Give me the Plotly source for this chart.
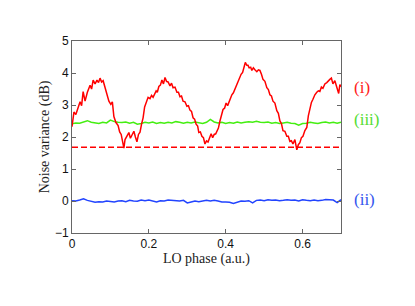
import plotly.graph_objects as go

# ---- data ----
red_phase = [0.000, 0.005, 0.010, 0.015, 0.021, 0.025, 0.029, 0.034, 0.040, 0.047, 0.051, 0.055, 0.060, 0.065, 0.069,
             0.073, 0.077, 0.081, 0.085, 0.088, 0.092, 0.096, 0.101, 0.105, 0.109, 0.114, 0.120, 0.124, 0.128, 0.131,
             0.135, 0.138, 0.141, 0.145, 0.148, 0.152, 0.156, 0.161, 0.165, 0.169, 0.173, 0.177, 0.181, 0.185, 0.189,
             0.193, 0.198, 0.203, 0.207, 0.211, 0.215, 0.219, 0.222, 0.226, 0.230, 0.234, 0.238, 0.242, 0.246, 0.250,
             0.255, 0.259, 0.263, 0.268, 0.273, 0.277, 0.281, 0.285, 0.289, 0.294, 0.299, 0.303, 0.307, 0.311, 0.315,
             0.319, 0.323, 0.327, 0.330, 0.334, 0.338, 0.342, 0.346, 0.350, 0.354, 0.358, 0.362, 0.366, 0.370, 0.374,
             0.377, 0.381, 0.385, 0.389, 0.393, 0.397, 0.401, 0.405, 0.409, 0.413, 0.416, 0.420, 0.424, 0.428, 0.432,
             0.436, 0.440, 0.444, 0.448, 0.451, 0.455, 0.458, 0.461, 0.465, 0.468, 0.472, 0.476, 0.481, 0.485, 0.489,
             0.493, 0.497, 0.502, 0.507, 0.511, 0.515, 0.519, 0.523, 0.528, 0.533, 0.537, 0.541, 0.545, 0.549, 0.554,
             0.559, 0.563, 0.567, 0.571, 0.575, 0.580, 0.583, 0.585, 0.589, 0.593, 0.597, 0.601, 0.606, 0.611, 0.615,
             0.619, 0.623, 0.627, 0.632, 0.637, 0.641, 0.645, 0.649, 0.653, 0.658, 0.663, 0.667, 0.671, 0.675, 0.679,
             0.684, 0.689, 0.694, 0.697, 0.700]
red_values = [2.32, 2.78, 2.70, 2.92, 3.10, 2.98, 3.42, 3.12, 3.40, 3.62, 3.50, 3.78, 3.66, 3.78, 3.70,
              3.84, 3.72, 3.76, 3.58, 3.50, 3.34, 3.12, 3.02, 3.10, 2.64, 2.46, 2.36, 2.16, 2.08, 1.90,
              1.65, 1.92, 2.00, 2.10, 2.14, 1.96, 2.04, 2.18, 2.00, 1.85, 2.08, 2.15, 2.40, 2.60, 2.94,
              3.08, 3.24, 3.20, 3.30, 3.24, 3.34, 3.44, 3.40, 3.58, 3.62, 3.78, 3.66, 3.86, 3.74, 3.72,
              3.60, 3.68, 3.54, 3.56, 3.40, 3.40, 3.26, 3.28, 3.12, 3.10, 2.96, 2.98, 2.84, 2.80, 2.60,
              2.56, 2.40, 2.34, 2.14, 2.16, 2.02, 1.98, 1.78, 1.88, 1.84, 2.00, 2.10, 1.98, 2.08, 2.10,
              2.20, 2.28, 2.50, 2.66, 2.86, 2.90, 3.06, 2.98, 3.12, 3.20, 3.32, 3.38, 3.50, 3.56, 3.74,
              3.80, 3.96, 4.02, 4.22, 4.33, 4.24, 4.24, 4.16, 4.18, 4.08, 4.16, 4.10, 4.04, 4.10, 4.08,
              3.96, 3.80, 3.74, 3.54, 3.48, 3.32, 3.28, 3.12, 3.06, 2.82, 2.74, 2.50, 2.42, 2.20, 2.18,
              2.02, 2.02, 1.86, 1.88, 1.78, 1.92, 1.70, 1.60, 1.76, 1.82, 1.98, 2.02, 2.20, 2.30, 2.66,
              2.88, 3.08, 3.18, 3.32, 3.40, 3.44, 3.42, 3.56, 3.52, 3.66, 3.70, 3.76, 3.80, 3.84, 3.66,
              3.76, 3.56, 3.36, 3.64, 3.57]

ref_phase = [0.0, 0.7]
ref_values = [1.68, 1.68]

noise_phase = [round(i * 0.01, 2) for i in range(71)]
green_values = [2.41, 2.44, 2.43, 2.47, 2.51, 2.46, 2.44, 2.42, 2.46, 2.44, 2.53, 2.48, 2.46, 2.45, 2.47, 2.43,
                2.46, 2.40, 2.42, 2.46, 2.44, 2.47, 2.42, 2.45, 2.43, 2.46, 2.44, 2.48, 2.46, 2.43, 2.46, 2.44,
                2.47, 2.44, 2.42, 2.46, 2.55, 2.47, 2.44, 2.46, 2.42, 2.45, 2.43, 2.47, 2.44, 2.46, 2.48, 2.46,
                2.49, 2.46, 2.45, 2.47, 2.43, 2.45, 2.42, 2.44, 2.46, 2.43, 2.42, 2.37, 2.42, 2.43, 2.46, 2.44,
                2.42, 2.45, 2.47, 2.44, 2.46, 2.43, 2.46]
blue_values = [0.01, 0.00, 0.03, 0.07, 0.02, -0.02, -0.04, -0.02, -0.03, 0.00, -0.02, -0.03, 0.00, 0.01, -0.02,
               0.02, 0.00, -0.01, 0.03, 0.01, 0.03, -0.01, -0.03, 0.01, 0.00, 0.03, 0.02, 0.03, 0.00, 0.02,
               -0.06, -0.03, 0.00, -0.02, 0.01, 0.02, 0.00, 0.02, 0.00, -0.03, -0.03, -0.04, -0.08, -0.03, 0.00,
               -0.01, 0.01, -0.06, 0.02, 0.03, 0.01, 0.04, 0.02, 0.03, 0.01, 0.02, 0.04, 0.02, 0.03, 0.00,
               0.04, 0.02, 0.01, 0.03, 0.01, 0.02, 0.05, 0.04, 0.03, -0.05, 0.04]

x_ticks = [0, 0.2, 0.4, 0.6]
x_tick_labels = ["0", "0.2", "0.4", "0.6"]
y_ticks = [-1, 0, 1, 2, 3, 4, 5]
y_tick_labels = ["\u22121", "0", "1", "2", "3", "4", "5"]

labels = ["(i)", "(iii)", "(ii)"]
label_y = [3.55, 2.55, 0.05]

RED = "#ff0000"
GREEN = "#44ee11"
BLUE = "#2244ff"
label_colors = ["#ff2020", "#55dd33", "#3355ee"]

fig = go.Figure()
fig.add_trace(go.Scatter(x=ref_phase, y=ref_values, mode="lines",
                         line=dict(color=RED, width=1.5, dash="6px,3px")))
fig.add_trace(go.Scatter(x=noise_phase, y=blue_values, mode="lines",
                         line=dict(color=BLUE, width=1.5)))
fig.add_trace(go.Scatter(x=noise_phase, y=green_values, mode="lines",
                         line=dict(color=GREEN, width=1.5)))
fig.add_trace(go.Scatter(x=red_phase, y=red_values, mode="lines",
                         line=dict(color=RED, width=1.5)))

for txt, yv, c in zip(labels, label_y, label_colors):
    fig.add_annotation(x=1.04, xref="paper", y=yv, yref="y", text=txt, showarrow=False,
                       xanchor="left", yanchor="middle",
                       font=dict(family="Liberation Serif, serif", size=17, color=c))

axis_common = dict(showline=True, linecolor="#666666", linewidth=1, mirror="ticks",
                   ticks="inside", ticklen=4, tickcolor="#666666", showgrid=False,
                   zeroline=False, automargin=False,
                   tickfont=dict(family="Liberation Sans, Arial, sans-serif", size=12, color="#111111"))

fig.update_layout(
    width=415, height=306,
    margin=dict(l=72, r=74, t=41, b=73),
    paper_bgcolor="white", plot_bgcolor="white",
    showlegend=False,
    xaxis=dict(range=[0, 0.7], tickvals=x_ticks, ticktext=x_tick_labels,
               title=dict(text="LO phase (a.u.)", standoff=0,
                          font=dict(family="Liberation Serif, serif", size=14, color="#222222")),
               **axis_common),
    yaxis=dict(range=[-1, 5], tickvals=y_ticks, ticktext=y_tick_labels,
               title=dict(text="Noise variance (dB)", standoff=2,
                          font=dict(family="Liberation Serif, serif", size=14, color="#222222")),
               **axis_common),
)

fig.write_html("out.html", config={"displayModeBar": False},
               post_script="document.body.style.margin='0px';")
